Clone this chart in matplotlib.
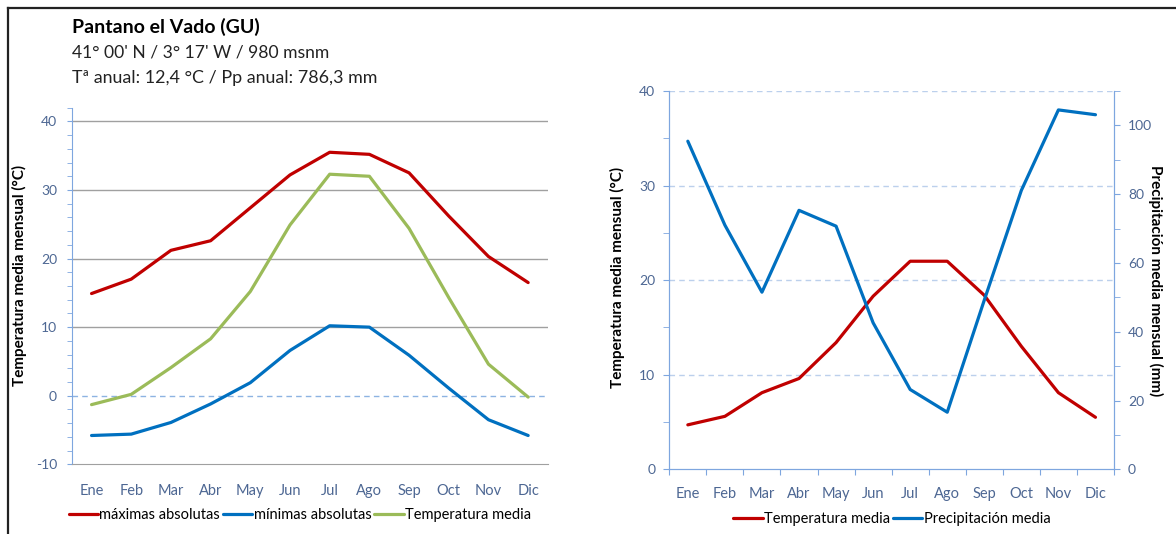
import matplotlib
matplotlib.use('Agg')
import matplotlib.pyplot as plt
from matplotlib.ticker import MultipleLocator
from matplotlib.lines import Line2D

plt.rcParams['font.family'] = ['Lato', 'DejaVu Sans']
plt.rcParams['axes.unicode_minus'] = False

# datos
meses = ['Ene', 'Feb', 'Mar', 'Abr', 'May', 'Jun', 'Jul', 'Ago', 'Sep', 'Oct', 'Nov', 'Dic']
max_abs = [14.9, 17.0, 21.2, 22.6, 27.4, 32.2, 35.5, 35.2, 32.5, 26.2, 20.3, 16.5]
min_abs = [-5.8, -5.6, -3.9, -1.2, 1.9, 6.6, 10.2, 10.0, 5.9, 1.1, -3.5, -5.8]
temp_media_izq = [-1.3, 0.2, 4.1, 8.3, 15.2, 24.9, 32.3, 32.0, 24.4, 14.3, 4.6, -0.2]
temp_media = [4.7, 5.6, 8.1, 9.6, 13.4, 18.3, 22.0, 22.0, 18.4, 13.0, 8.1, 5.5]
precip = [95.4, 71.0, 51.5, 75.3, 70.7, 42.6, 23.2, 16.6, 49.2, 81.1, 104.5, 103.1]

ROJO = '#c00000'
AZUL = '#0070c0'
VERDE = '#9bbb59'
EJE = '#7ea6df'
TXT = '#4d6793'
W, H = 1176, 534

fig = plt.figure(figsize=(11.76, 5.34), dpi=100)

# marco
fig.add_artist(Line2D([8 / W, 1.01], [1 - 8 / H, 1 - 8 / H], color='#222222', lw=1.6))
fig.add_artist(Line2D([8 / W, 8 / W], [-0.01, 1 - 8 / H], color='#222222', lw=1.6))

# titulos
fig.text(72 / W, 1 - 27 / H, 'Pantano el Vado (GU)', fontsize=14, fontweight='bold', va='center')
fig.text(72 / W, 1 - 53 / H, "41° 00' N / 3° 17' W / 980 msnm", fontsize=12.6, va='center', color='#222222')
fig.text(72 / W, 1 - 78 / H, 'Tª anual: 12,4 °C / Pp anual: 786,3 mm', fontsize=12.9, va='center', color='#222222')

x = list(range(len(meses)))

# ---- grafico izquierdo
ax1 = fig.add_axes([71.7 / W, 1 - 464.3 / H, (548 - 71.7) / W, (464.3 - 107.7) / H])
ax1.plot(x, max_abs, color=ROJO, lw=2.3, label='máximas absolutas', solid_capstyle='round')
ax1.plot(x, min_abs, color=AZUL, lw=2.3, label='mínimas absolutas', solid_capstyle='round')
ax1.plot(x, temp_media_izq, color=VERDE, lw=2.3, label='Temperatura media', solid_capstyle='round')
ax1.set_xlim(-0.5, 11.5)
ax1.set_ylim(-10, 42)
ax1.set_yticks(range(-10, 41, 10))
ax1.yaxis.set_minor_locator(MultipleLocator(2))
for v in [10, 20, 30, 40]:
    ax1.axhline(v, color='#a0a0a0', lw=1, zorder=0)
ax1.axhline(0, color='#8db3e2', lw=1, ls=(0, (4, 3)), zorder=0)
ax1.set_xticks(x)
ax1.set_xticklabels(meses)
for s in ['top', 'right']:
    ax1.spines[s].set_visible(False)
ax1.spines['left'].set_color(EJE)
ax1.spines['bottom'].set_color('#a0a0a0')
ax1.tick_params(axis='x', length=0, pad=14, labelsize=10.5, labelcolor=TXT)
ax1.tick_params(axis='y', which='both', length=3.5, color=EJE, labelsize=10, labelcolor=TXT, pad=7)
ax1.set_ylabel('Temperatura media mensual (°C)', fontsize=11, fontweight='bold')
ax1.yaxis.set_label_coords(-0.094, 0.53)
fig.legend(*ax1.get_legend_handles_labels(), loc='center', bbox_to_anchor=(300 / W, 1 - 515 / H),
           ncol=3, frameon=False, fontsize=10.5, handlelength=2.0, handletextpad=0.1,
           columnspacing=0.2, borderaxespad=0)

# ---- grafico derecho
ax2 = fig.add_axes([669.3 / W, 1 - 469.3 / H, (1114 - 669.3) / W, (469.3 - 91) / H])
l1, = ax2.plot(x, temp_media, color=ROJO, lw=2.3, label='Temperatura media', solid_capstyle='round')
ax2.set_xlim(-0.5, 11.5)
ax2.set_ylim(0, 40)
ax2.set_yticks(range(0, 41, 10))
ax2.yaxis.set_minor_locator(MultipleLocator(5))
for v in [10, 20, 30, 40]:
    ax2.axhline(v, color='#bcd0ec', lw=1, ls=(0, (4, 3)), zorder=0)
ax2.set_xticks([i - 0.5 for i in range(13)])
ax2.set_xticks(x, minor=True)
ax2.set_xticklabels([])
ax2.set_xticklabels(meses, minor=True)
ax2.tick_params(axis='x', which='major', length=4, color=EJE)
ax2.tick_params(axis='x', which='minor', length=0, pad=13, labelsize=10.5, labelcolor=TXT)
ax2.tick_params(axis='y', which='both', length=4, color=EJE, labelsize=10, labelcolor=TXT, pad=6)
ax2.spines['top'].set_visible(False)
for s in ['left', 'right', 'bottom']:
    ax2.spines[s].set_color(EJE)
ax2.set_ylabel('Temperatura media mensual (°C)', fontsize=11, fontweight='bold')
ax2.yaxis.set_label_coords(-0.1, 0.506)

ax3 = ax2.twinx()
l2, = ax3.plot(x, precip, color=AZUL, lw=2.3, label='Precipitación media', solid_capstyle='round')
ax3.set_ylim(0, 110)
ax3.set_yticks(range(0, 101, 20))
ax3.yaxis.set_minor_locator(MultipleLocator(10))
ax3.tick_params(axis='y', which='both', length=4, color=EJE, labelsize=10, labelcolor=TXT, pad=6)
ax3.spines['top'].set_visible(False)
for s in ['left', 'right', 'bottom']:
    ax3.spines[s].set_color(EJE)
ax3.set_ylabel('Precipitación media mensual (mm)', fontsize=11, fontweight='bold', rotation=270)
ax3.yaxis.set_label_coords(1.11, 0.50)
fig.legend([l1, l2], [l1.get_label(), l2.get_label()], loc='center',
           bbox_to_anchor=(892 / W, 1 - 519 / H), ncol=2, frameon=False, fontsize=10.5,
           handlelength=2.0, handletextpad=0.1, columnspacing=0.2, borderaxespad=0)

fig.savefig('out.png', dpi=100)
